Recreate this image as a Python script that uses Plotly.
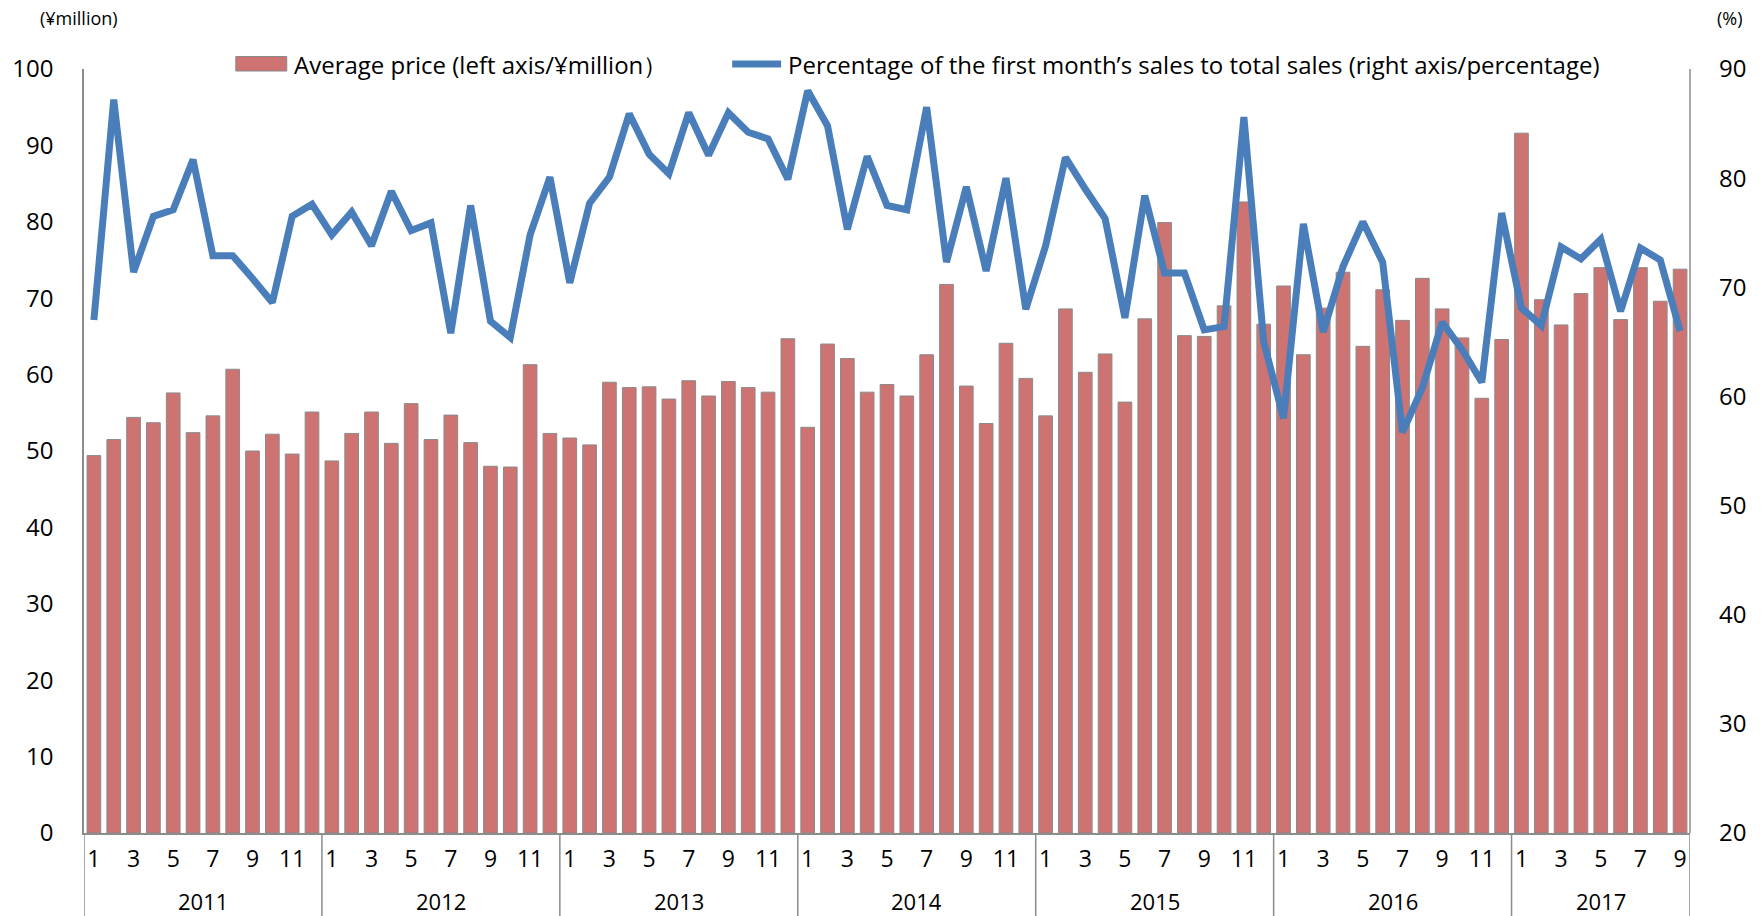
import plotly.graph_objects as go

# Monthly series, January 2011 to September 2017
years = ["2011", "2012", "2013", "2014", "2015", "2016", "2017"]
months_per_year = [12, 12, 12, 12, 12, 12, 9]
month_tick_labels = ["1", "3", "5", "7", "9", "11"]

# Average price (¥ million), left axis
avg_price = [
    49.4, 51.5, 54.4, 53.7, 57.6, 52.4, 54.6, 60.7, 50.0, 52.2, 49.6, 55.1,
    48.7, 52.3, 55.1, 51.0, 56.2, 51.5, 54.7, 51.1, 48.0, 47.9, 61.3, 52.3,
    51.7, 50.8, 59.0, 58.3, 58.4, 56.8, 59.2, 57.2, 59.1, 58.3, 57.7, 64.7,
    53.1, 64.0, 62.1, 57.7, 58.7, 57.2, 62.6, 71.8, 58.5, 53.6, 64.1, 59.5,
    54.6, 68.6, 60.3, 62.7, 56.4, 67.3, 79.9, 65.1, 65.0, 69.0, 82.6, 66.6,
    71.6, 62.6, 68.7, 73.4, 63.7, 71.1, 67.1, 72.6, 68.6, 64.8, 56.9, 64.6,
    91.6, 69.8, 66.5, 70.6, 74.0, 67.2, 74.0, 69.6, 73.8,
]

# Share of first-month sales in total sales (%), right axis
first_month_pct = [
    67.0, 87.2, 71.4, 76.5, 77.1, 81.7, 72.9, 72.9, 70.8, 68.6, 76.5, 77.6,
    74.8, 76.9, 73.8, 78.8, 75.2, 75.9, 65.8, 77.5, 66.9, 65.4, 74.8, 80.1,
    70.4, 77.7, 80.1, 85.9, 82.2, 80.4, 86.0, 82.1, 86.0, 84.2, 83.6, 79.9,
    88.0, 84.8, 75.3, 82.0, 77.5, 77.1, 86.5, 72.3, 79.2, 71.5, 80.0, 68.0,
    73.8, 81.9, 79.0, 76.3, 67.2, 78.4, 71.3, 71.3, 66.1, 66.4, 85.6, 65.0,
    58.0, 75.8, 65.9, 71.9, 76.0, 72.3, 56.7, 60.8, 66.8, 64.3, 61.3, 76.8,
    68.1, 66.5, 73.7, 72.6, 74.4, 67.8, 73.6, 72.5, 66.0,
]

price_label = "Average price (left axis/¥million）"
pct_label = "Percentage of the first month’s sales to total sales (right axis/percentage)"

BAR_COLOR = "#CD7472"
LINE_COLOR = "#4A7EBB"
AXIS_COLOR = "#8C8C8C"
FONT = "Open Sans"

W, H = 1764, 916
ML, MR, MT, MB = 82, 74, 69, 83
PW, PH = W - ML - MR, H - MT - MB


def px(xpix):
    return (xpix - ML) / PW


def py(ypix):
    return (H - MB - ypix) / PH


# month index positions and per-year starting offsets
x_idx = list(range(len(avg_price)))
starts = []
pos = 0
for n in months_per_year:
    starts.append(pos)
    pos += n

tickvals, ticktext = [], []
for s, n in zip(starts, months_per_year):
    for lab in month_tick_labels:
        m = int(lab)
        if m <= n:
            tickvals.append(s + m - 1)
            ticktext.append(lab)

fig = go.Figure()
fig.add_trace(go.Bar(
    x=x_idx, y=avg_price, name=price_label,
    marker=dict(color=BAR_COLOR, line=dict(color="#8A8A8A", width=1)),
    showlegend=False, yaxis="y",
))
fig.add_trace(go.Scatter(
    x=x_idx, y=first_month_pct, name=pct_label, mode="lines",
    line=dict(color=LINE_COLOR, width=7, shape="linear"),
    showlegend=False, yaxis="y2",
))

shapes = []
annotations = []
n_total = len(avg_price)
# year dividers below the category axis (incl. both outer edges)
div_positions = [s - 0.5 for s in starts] + [n_total - 0.5]
for d in div_positions:
    shapes.append(dict(type="line", xref="x", yref="paper", x0=d, x1=d,
                       y0=0, y1=py(H), line=dict(color=AXIS_COLOR, width=1.5)))
# right axis line spanning the plot
shapes.append(dict(type="line", xref="paper", yref="paper", x0=1, x1=1, y0=0, y1=1,
                   line=dict(color=AXIS_COLOR, width=1.5)))

for yr, s, n in zip(years, starts, months_per_year):
    annotations.append(dict(text=yr, x=s + (n - 1) / 2, xref="x", y=py(901), yref="paper",
                            showarrow=False, xanchor="center", yanchor="middle",
                            font=dict(family=FONT, size=22, color="#000")))

# unit labels
annotations.append(dict(text="(¥million)", x=px(77), y=py(18), xref="paper", yref="paper",
                        showarrow=False, xanchor="center", yanchor="middle",
                        font=dict(family=FONT, size=18, color="#000")))
annotations.append(dict(text="(%)", x=px(1730), y=py(18), xref="paper", yref="paper",
                        showarrow=False, xanchor="center", yanchor="middle",
                        font=dict(family=FONT, size=18, color="#000")))

# legend
legend_y = 64
shapes.append(dict(type="rect", xref="paper", yref="paper",
                   x0=px(234), x1=px(285), y0=py(56.5), y1=py(71),
                   fillcolor=BAR_COLOR, line=dict(color="#8A8A8A", width=1)))
annotations.append(dict(text=price_label, x=px(290), y=py(legend_y), xref="paper", yref="paper",
                        showarrow=False, xanchor="left", yanchor="middle",
                        font=dict(family=FONT, size=24, color="#000")))
shapes.append(dict(type="line", xref="paper", yref="paper",
                   x0=px(731), x1=px(780), y0=py(legend_y), y1=py(legend_y),
                   line=dict(color=LINE_COLOR, width=7)))
annotations.append(dict(text=pct_label, x=px(785), y=py(legend_y), xref="paper", yref="paper",
                        showarrow=False, xanchor="left", yanchor="middle",
                        font=dict(family=FONT, size=24, color="#000")))

fig.update_layout(
    width=W, height=H,
    margin=dict(l=ML, r=MR, t=MT, b=MB, pad=0),
    paper_bgcolor="white", plot_bgcolor="white",
    bargap=0.31,
    showlegend=False,
    font=dict(family=FONT, size=24, color="#000"),
    xaxis=dict(
        range=[-0.5, n_total - 0.5], tickmode="array", tickvals=tickvals, ticktext=ticktext,
        showgrid=False, zeroline=False, showline=True, linecolor=AXIS_COLOR, linewidth=1.5,
        ticks="", tickfont=dict(family=FONT, size=23, color="#000"), ticklabelstandoff=5,
        fixedrange=True,
    ),
    yaxis=dict(
        range=[0, 100], dtick=10, showgrid=False, zeroline=False,
        showline=True, linecolor=AXIS_COLOR, linewidth=1.5, ticks="",
        tickfont=dict(family=FONT, size=24, color="#000"), ticklabelstandoff=24,
    ),
    yaxis2=dict(
        range=[20, 90], dtick=10, overlaying="y", side="right", showgrid=False,
        zeroline=False, showline=False, ticks="",
        tickfont=dict(family=FONT, size=24, color="#000"), ticklabelstandoff=28,
    ),
    shapes=shapes,
    annotations=annotations,
)

fig.write_html("out.html")
